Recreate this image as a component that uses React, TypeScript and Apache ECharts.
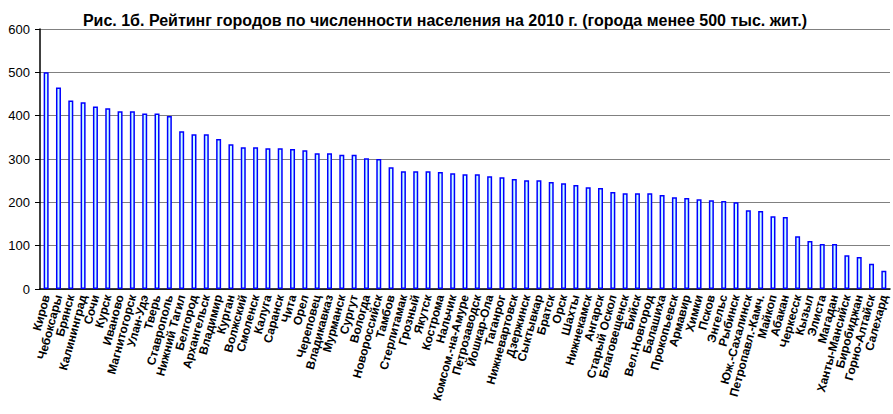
import React, { useEffect, useRef } from "react";
import * as echarts from "echarts";

const titleText = "Рис. 1б. Рейтинг городов по численности населения на 2010 г. (города менее 500 тыс. жит.)";

const cities = [
  "Киров", "Чебоксары", "Брянск", "Калининград", "Сочи", "Курск", "Иваново", "Магнитогорск",
  "Улан-Удэ", "Тверь", "Ставрополь", "Нижний Тагил", "Белгород", "Архангельск", "Владимир",
  "Курган", "Волжский", "Смоленск", "Калуга", "Саранск", "Чита", "Орел", "Череповец",
  "Владикавказ", "Мурманск", "Сургут", "Вологда", "Новороссийск", "Тамбов", "Стерлитамак",
  "Грозный", "Якутск", "Кострома", "Нальчик", "Комсом.-на-Амуре", "Петрозаводск", "Йошкар-Ола",
  "Таганрог", "Нижневартовск", "Дзержинск", "Сыктывкар", "Братск", "Орск", "Шахты",
  "Нижнекамск", "Ангарск", "Старый Оскол", "Благовещенск", "Бийск", "Вел.Новгород", "Балашиха",
  "Прокопьевск", "Армавир", "Химки", "Псков", "Энгельс", "Рыбинск", "Юж.-Сахалинск",
  "Петропавл.-Камч.", "Майкоп", "Абакан", "Черкесск", "Кызыл", "Элиста", "Магадан",
  "Ханты-Мансийск", "Биробиджан", "Горно-Алтайск", "Салехард",
];

const population = [
  500, 465, 435, 431, 421, 417, 410, 410,
  405, 405, 399, 364, 357, 357, 346,
  334, 327, 327, 325, 325, 323, 320, 313,
  313, 310, 310, 302, 300, 281, 272,
  272, 272, 270, 267, 265, 265, 260,
  258, 254, 251, 251, 247, 244, 240,
  235, 233, 224, 221, 221, 221, 217,
  212, 210, 207, 205, 203, 200, 182,
  180, 168, 166, 122, 111, 104, 104,
  78, 74, 58, 42,
];

const yMin = 0;
const yMax = 600;
const yStep = 100;

const FONT = "Arial, 'Liberation Sans', sans-serif";

export default function App() {
  const ref = useRef<HTMLDivElement>(null);
  useEffect(() => {
    if (!ref.current) return;
    const chart = echarts.init(ref.current, null, { renderer: "svg" });
    chart.setOption({
      animation: false,
      backgroundColor: "#ffffff",
      title: {
        text: titleText,
        left: 440,
        textAlign: "center",
        top: 7,
        textStyle: { fontFamily: FONT, fontSize: 16, fontWeight: "bold", color: "#000" },
      },
      grid: { left: 40, right: 3, top: 29, bottom: 125, containLabel: false },
      xAxis: {
        type: "category",
        data: cities,
        axisLine: { show: true, lineStyle: { color: "#000", width: 1.5 } },
        axisTick: { show: false },
        axisLabel: {
          interval: 0,
          rotate: 75,
          margin: 6,
          fontFamily: FONT,
          fontSize: 12,
          fontWeight: "bold",
          color: "#000",
        },
      },
      yAxis: {
        type: "value",
        min: yMin,
        max: yMax,
        interval: yStep,
        axisLine: { show: true, lineStyle: { color: "#000", width: 1.5 } },
        axisTick: { show: true, length: 5, lineStyle: { color: "#000" } },
        axisLabel: { fontFamily: FONT, fontSize: 13, color: "#000", margin: 10 },
        splitLine: { show: true, lineStyle: { color: "#808080", width: 1 } },
      },
      series: [
        {
          type: "bar",
          data: population,
          barWidth: 5,
          itemStyle: { color: "#CCFFFF", borderColor: "#0000FF", borderWidth: 1.5 },
        },
      ],
    });
    return () => chart.dispose();
  }, []);
  return (
    <div
      ref={ref}
      style={{ position: "fixed", left: 0, top: 0, width: 893, height: 414 }}
    />
  );
}
